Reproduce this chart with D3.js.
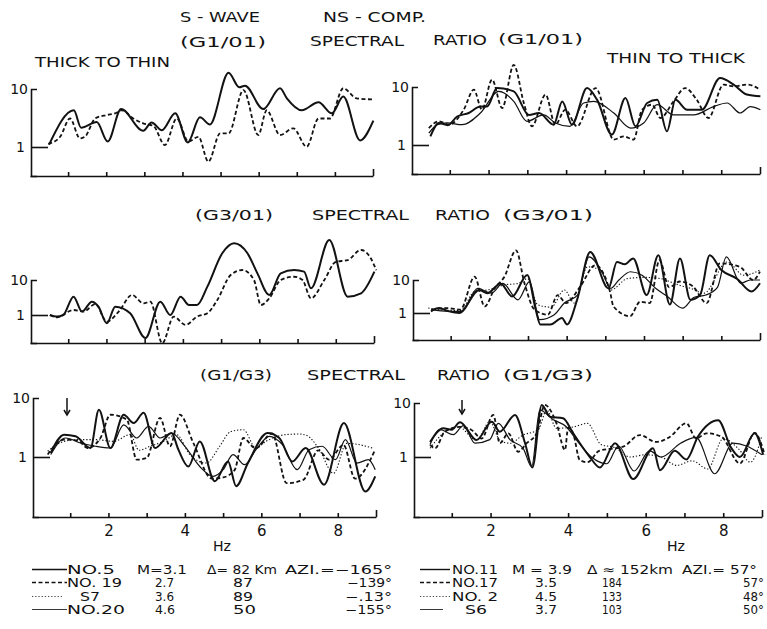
<!DOCTYPE html>
<html>
<head>
<meta charset="utf-8">
<script src="https://cdn.jsdelivr.net/npm/d3@7"></script>
<style>
  body { margin: 0; background: #fff; }
  svg text { font-family: "DejaVu Sans", sans-serif; fill: #121212; }
  .axis path, .axis line { stroke: #121212; stroke-width: 1.6; fill: none; }
  .axis text { font-size: 14px; }
  .curve { fill: none; stroke: #121212; stroke-linejoin: round; }
</style>
</head>
<body>
<svg width="767" height="629"></svg>
<script>
// ---- data (frequency in Hz, spectral ratio) ----
const hzTicks = [1, 2, 3, 4, 5, 6, 7, 8, 9];
const hzLabels = [2, 4, 6, 8];
const ratioTicks = [1, 10];

// (G1/01) thick to thin
const l1No5 = [[0.5,1.1],[1.15,4.3],[1.34,2.15],[1.75,2.7],[2.04,1.24],[2.39,4.5],[2.97,1.9],[3.19,2.65],[3.46,1.95],[3.81,3.8],[4.14,1.2],[4.46,3.25],[4.72,2.45],[5.21,19],[5.49,10.7],[5.64,11.4],[6.12,4.5],[6.56,10.3],[6.74,6.9],[7.13,4.3],[7.57,5.9],[7.92,3.8],[8.22,7.4],[8.66,1.3],[9.01,2.85]];
const l1No19 = [[0.48,1.13],[0.79,1.5],[1.05,3.1],[1.31,1.41],[1.44,1.5],[1.71,3.1],[2.01,3.56],[2.23,3.8],[2.41,4.3],[2.71,3.1],[2.97,2.56],[3.24,2.3],[3.54,1.08],[3.85,3.1],[4.16,1.24],[4.42,1.5],[4.68,0.56],[4.99,1.72],[5.21,1.72],[5.6,9.6],[5.99,1.61],[6.21,4.3],[6.56,1.61],[6.91,2.1],[7.26,1.01],[7.57,3.1],[7.87,3.1],[8.22,10.3],[8.57,6.9],[9.01,6.6]];
// (G1/01) thin to thick
const r1No11 = [[0.5,1.41],[0.72,2.4],[0.95,2.2],[1.19,3.1],[1.49,3.56],[1.79,4.6],[1.96,4.6],[2.22,9.6],[2.65,8.4],[3.04,3.3],[3.3,3.56],[3.68,2.24],[3.9,5.65],[4.15,2.24],[4.54,9.6],[4.8,6.0],[5.18,1.51],[5.53,6.45],[5.79,2.1],[6.09,5.3],[6.35,6.0],[6.6,1.72],[6.82,6.0],[7.12,4.06],[7.5,4.06],[7.97,14.3],[8.32,11],[8.66,7.4],[9.01,6.9]];
const r1No17 = [[0.46,1.96],[0.72,2.56],[0.98,2.24],[1.36,4.07],[1.62,9.0],[1.83,4.07],[2.09,13.4],[2.35,4.34],[2.65,24],[2.91,5.3],[3.12,2.1],[3.47,7.4],[3.72,2.24],[3.98,4.07],[4.28,2.1],[4.76,9.6],[5.23,1.24],[5.49,1.41],[5.74,1.24],[5.96,4.07],[6.22,4.96],[6.43,2.92],[6.77,5.65],[7.07,9.6],[7.37,6.0],[7.67,2.92],[8.06,11],[8.32,10.3],[8.66,11],[9.01,9.0]];
const r1S6 = [[0.46,1.6],[0.68,2.24],[0.93,2.4],[1.32,2.24],[1.79,3.56],[2.26,8.4],[2.65,5.65],[2.99,2.56],[3.42,3.3],[3.72,2.4],[4.1,2.1],[4.45,5.3],[4.71,5.65],[5.23,3.56],[5.66,1.96],[6.0,2.4],[6.35,4.96],[6.77,3.3],[7.29,3.3],[7.8,4.6],[8.15,5.3],[8.49,3.56],[8.75,4.6],[9.01,4.06]];

// (G3/01)
const l2No5 = [[0.52,1.0],[0.7,0.9],[0.87,1.0],[1.14,3.34],[1.36,1.25],[1.62,2.4],[1.79,1.73],[2.01,0.58],[2.23,1.73],[2.62,1.12],[3.02,0.22],[3.41,2.4],[3.67,1.0],[3.94,3.34],[4.16,1.93],[4.37,1.93],[4.64,6.45],[5.03,58],[5.34,112],[5.69,58],[5.95,15.5],[6.26,3.73],[6.56,15.5],[6.91,19.3],[7.17,17.3],[7.35,5.8],[7.83,139],[8.31,3.34],[8.66,4.16],[9.01,17.3]];
const l2No19 = [[0.52,1.0],[0.7,0.86],[1.14,1.39],[1.4,1.25],[1.71,2.06],[2.01,0.65],[2.32,1.25],[2.67,3.73],[2.97,2.15],[3.15,2.4],[3.46,0.155],[3.76,0.9],[4.07,0.52],[4.37,0.9],[4.64,1.12],[4.9,2.68],[5.25,13.9],[5.56,19.3],[5.86,10],[6.04,1.93],[6.26,3.0],[6.56,10],[6.91,12.4],[7.13,10],[7.35,3.0],[7.7,10],[8.0,33],[8.31,37],[8.66,72],[8.92,41],[9.06,19]];
const r2No11 = [[0.49,1.12],[0.7,1.41],[0.96,1.12],[1.22,1.0],[1.74,5.0],[1.95,4.0],[2.29,7.9],[2.59,3.16],[2.98,14.1],[3.2,1.26],[3.32,0.45],[3.58,0.45],[3.88,0.71],[4.01,0.45],[4.27,2.5],[4.61,70],[5.08,5.6],[5.3,35],[5.5,30],[5.72,45],[6.07,3.5],[6.37,56],[6.67,1.8],[6.93,45],[7.2,2.5],[7.45,3.5],[7.7,56],[8.0,20],[8.4,11],[8.78,4.5],[9.0,8]];
const r2No17 = [[0.5,1.26],[0.93,1.41],[1.25,1.26],[1.62,12.6],[1.88,1.58],[2.14,5.6],[2.39,12.6],[2.69,79],[2.91,7.9],[3.17,1.26],[3.51,0.89],[3.77,3.5],[3.98,2.0],[4.35,6.3],[4.74,28],[5.12,4.5],[5.21,1.58],[5.64,0.8],[5.9,2.2],[6.15,2.0],[6.4,40],[6.65,6],[6.93,9],[7.27,6.3],[7.62,2.0],[7.96,32],[8.48,25],[8.82,10],[9.0,18]];
const r2No2 = [[0.42,1.41],[0.9,1.2],[1.25,1.2],[1.62,4.5],[1.96,5.0],[2.39,7.1],[2.74,7.9],[2.99,11],[3.25,1.78],[3.6,1.5],[3.94,5.0],[4.2,2.0],[4.54,25],[4.88,20],[5.14,5.0],[5.57,11],[6.0,12],[6.43,11],[6.9,7],[7.2,5.6],[7.55,4],[8.15,35],[8.58,14],[9.0,20]];
const r2S6 = [[0.5,1.26],[0.93,1.12],[1.28,1.12],[1.7,5.6],[2.05,4.0],[2.35,7.9],[2.74,2.5],[3.04,8.9],[3.3,0.63],[3.68,0.89],[3.94,2.0],[4.28,3.5],[4.58,50],[4.93,15.8],[5.14,5.6],[5.35,10],[5.65,17.8],[5.95,14],[6.3,5.6],[6.6,3.2],[7.0,1.4],[7.3,3.0],[7.6,3.5],[7.9,6],[8.13,50],[8.5,8],[8.75,10],[9.0,10]];

// (G1/G3)
const l3No5 = [[0.49,1.17],[0.84,2.39],[1.14,2.24],[1.53,1.42],[1.75,6.3],[2.05,1.42],[2.4,5.2],[2.66,3.76],[2.92,5.6],[3.22,1.42],[3.65,2.55],[3.83,1.33],[4.09,0.69],[4.39,1.84],[4.78,0.39],[5.13,0.84],[5.34,0.32],[5.65,0.79],[6.16,2.55],[6.47,2.1],[6.81,0.84],[7.16,1.42],[7.64,0.34],[8.16,3.76],[8.72,0.26],[8.98,0.47]];
const l3No19 = [[0.41,1.1],[0.84,1.97],[1.2,1.9],[1.45,1.42],[1.79,2.1],[2.05,5.2],[2.48,4.3],[2.74,0.9],[3.0,0.96],[3.35,4.6],[3.61,1.52],[3.87,5.2],[4.22,1.73],[4.71,0.43],[5.0,0.45],[5.3,0.6],[5.53,2.1],[5.85,1.4],[6.28,2.5],[6.66,0.36],[7.1,0.41],[7.49,1.3],[7.77,0.9],[8.15,1.6],[8.45,0.43],[8.97,1.3]];
const l3S7 = [[0.41,1.25],[0.84,1.84],[1.23,1.97],[1.66,1.97],[2.14,1.84],[2.57,2.4],[2.8,1.3],[3.09,1.52],[3.44,1.84],[3.78,2.4],[4.13,1.1],[4.56,0.79],[4.91,1.52],[5.2,2.7],[5.53,2.9],[5.86,1.42],[6.12,1.84],[6.66,2.4],[7.0,2.45],[7.2,2.3],[7.5,1.4],[7.89,0.53],[8.23,1.7],[8.6,1.6],[8.93,1.4]];
const l3No20 = [[0.49,1.1],[0.88,2.1],[1.27,1.73],[1.66,1.52],[2.05,1.42],[2.4,3.5],[2.74,2.1],[3.05,3.3],[3.35,2.1],[3.65,2.55],[4.0,1.52],[4.39,0.69],[4.74,0.47],[5.0,0.61],[5.26,1.1],[5.56,0.74],[5.86,1.33],[6.21,2.24],[6.55,1.62],[6.94,0.61],[7.25,1.33],[7.59,1.52],[7.94,0.9],[8.2,1.97],[8.5,0.79],[8.8,0.9],[8.98,0.61]];
const r3No11 = [[0.44,1.9],[0.78,3.4],[1.0,3.2],[1.21,4.4],[1.64,2.06],[2.03,4.5],[2.24,2.95],[2.63,6.0],[2.89,1.8],[3.08,0.64],[3.32,9.2],[3.53,5.6],[3.87,5.2],[4.13,2.75],[4.56,1.0],[4.82,0.64],[5.21,1.8],[5.68,0.39],[6.19,1.45],[6.37,0.57],[6.75,1.3],[7.05,0.9],[7.35,2.4],[7.87,4.8],[8.2,1.5],[8.43,1.0],[8.81,2.75],[9.03,1.1]];
const r3No17 = [[0.44,1.67],[0.57,1.45],[0.82,2.95],[1.21,3.6],[1.5,3.2],[1.77,2.2],[2.07,6.0],[2.24,1.8],[2.46,2.75],[2.71,1.25],[2.93,1.8],[3.19,2.75],[3.4,9.2],[3.7,4.2],[3.92,1.35],[4.0,3.5],[4.13,2.75],[4.3,0.88],[4.5,0.8],[4.8,1.3],[5.42,1.55],[5.85,2.55],[6.27,1.9],[6.6,2.3],[7.05,4.2],[7.3,2.2],[7.57,2.75],[7.95,2.38],[8.43,0.76],[8.81,2.8],[9.07,1.1]];
const r3No2 = [[0.44,1.45],[0.78,2.75],[1.17,3.6],[1.64,2.06],[1.98,4.5],[2.25,2.0],[2.5,1.8],[2.84,2.55],[3.23,3.2],[3.45,7.4],[3.7,3.4],[4.13,3.6],[4.5,4.2],[4.85,1.7],[5.2,1.5],[5.6,1.0],[6.0,1.1],[6.4,1.0],[6.8,0.7],[7.2,0.85],[7.6,0.6],[8.0,2.2],[8.4,1.4],[8.7,0.8],[9.0,2.5]];
const r3S6 = [[0.44,1.7],[0.7,3.2],[1.04,2.6],[1.3,3.8],[1.6,1.8],[1.98,2.1],[2.2,4.2],[2.5,2.1],[2.84,1.45],[3.06,0.66],[3.27,7.4],[3.62,4.9],[3.96,3.6],[4.22,2.06],[4.6,1.0],[5.0,0.75],[5.3,1.6],[5.7,0.55],[6.1,1.3],[6.4,1.0],[6.9,1.8],[7.3,2.3],[7.78,0.49],[8.25,1.8],[8.6,1.6],[9.0,1.1]];

// legend
const leftEvents = ["NO.5", "NO. 19", "S7", "NO.20"];
const leftMag = ["M=3.1", "2.7", "3.6", "4.6"];
const leftDist = ["Δ= 82 Km", "87", "89", "50"];
const leftAzi = ["AZI.=−165°", "−139°", "−.13°", "−155°"];
const rightEvents = ["NO.11", "NO.17", "NO. 2", "S6"];
const rightMag = ["M = 3.9", "3.5", "4.5", "3.7"];
const rightDist = ["Δ ≈ 152km", "184", "133", "103"];
const rightAzi = ["AZI.= 57°", "57°", "48°", "50°"];

// ---- layout ----
const svg = d3.select("svg");
const styles = {
  heavy: {w: 2, dash: null},
  dash: {w: 1.8, dash: "4,2.5"},
  dot: {w: 1.1, dash: "1.3,1.9"},
  thin: {w: 1.2, dash: null}
};

const panels = [
  {x0: 30, x9: 373, y10: 89, y1: 147, yb: 176, labels: false, series: [[l1No5, "heavy"], [l1No19, "dash"]]},
  {x0: 411, x9: 760, y10: 87, y1: 145, yb: 174, labels: false, series: [[r1No11, "heavy"], [r1No17, "dash"], [r1S6, "thin"]]},
  {x0: 30, x9: 374, y10: 280, y1: 315, yb: 343, labels: false, series: [[l2No5, "heavy"], [l2No19, "dash"]]},
  {x0: 412, x9: 760, y10: 280, y1: 313, yb: 340, labels: false, series: [[r2No11, "heavy"], [r2No17, "dash"], [r2No2, "dot"], [r2S6, "thin"]]},
  {x0: 32, x9: 376, y10: 398, y1: 457, yb: 517, labels: true, series: [[l3No5, "heavy"], [l3No19, "dash"], [l3S7, "dot"], [l3No20, "thin"]]},
  {x0: 413, x9: 762, y10: 403, y1: 457, yb: 517, labels: true, series: [[r3No11, "heavy"], [r3No17, "dash"], [r3No2, "dot"], [r3S6, "thin"]]}
];

panels.forEach(p => {
  const x = d3.scaleLinear().domain([0, 9]).range([p.x0, p.x9]);
  const y = d3.scaleLog().domain([1, 10]).range([p.y1, p.y10]);
  y.domain([y.invert(p.yb), 10]).range([p.yb, p.y10]);

  const g = svg.append("g");

  // bottom axis, ticks pointing up
  const xAxis = g.append("g")
    .attr("class", "axis")
    .attr("transform", `translate(0,${p.yb})`)
    .call(d3.axisBottom(x).tickValues(hzTicks).tickSize(-4).tickSizeOuter(0).tickPadding(8)
      .tickFormat(d => p.labels && hzLabels.includes(d) ? d : ""));
  xAxis.selectAll("text").style("font-size", "15px");
  xAxis.selectAll(".tick line").filter(d => d === 9).attr("y2", -7);

  // left axis: short corner at 10, long tick at 1
  const yAxis = g.append("g")
    .attr("class", "axis")
    .attr("transform", `translate(${p.x0 + 1},0)`)
    .call(d3.axisLeft(y).tickValues(ratioTicks).tickSize(-6).tickPadding(3)
      .tickFormat(d3.format("d")));
  yAxis.selectAll(".tick line").filter(d => d === 1).attr("x2", 17);
  yAxis.selectAll(".tick line").filter(d => d === 10).remove();
  yAxis.selectAll(".tick").filter(d => d === 1).select("text").attr("x", -6);

  const line = d3.line()
    .x(d => x(d[0]))
    .y(d => y(d[1]))
    .curve(d3.curveMonotoneX);

  p.series.forEach(([data, s]) => {
    g.append("path")
      .datum(data)
      .attr("class", "curve")
      .attr("d", line)
      .attr("stroke-width", styles[s].w)
      .attr("stroke-dasharray", styles[s].dash);
  });
});

// ---- titles ----
const titles = [
  ["S - WAVE", 180, 22, 80], ["NS - COMP.", 323, 22, 103],
  ["(G1/01)", 180, 47, 86], ["SPECTRAL", 310, 46, 94], ["RATIO", 433, 45, 54], ["(G1/01)", 498, 44, 85],
  ["THICK TO THIN", 35, 67, 135], ["THIN TO THICK", 607, 63, 138],
  ["(G3/01)", 195, 220, 78], ["SPECTRAL", 312, 220, 97], ["RATIO", 435, 220, 55], ["(G3/01)", 503, 220, 90],
  ["(G1/G3)", 200, 380, 72], ["SPECTRAL", 307, 380, 98], ["RATIO", 437, 380, 53], ["(G1/G3)", 503, 380, 90],
  ["Hz", 213, 551, 18], ["Hz", 667, 551, 18]
];
svg.append("g").selectAll("text")
  .data(titles)
  .join("text")
  .attr("x", d => d[1])
  .attr("y", d => d[2])
  .attr("textLength", d => d[3])
  .attr("lengthAdjust", "spacingAndGlyphs")
  .style("font-size", "14px")
  .text(d => d[0]);

// arrows at the G1/G3 peak
const arrows = [[67, 398, 415], [462, 400, 414]];
arrows.forEach(([ax, top, tip]) => {
  svg.append("line").attr("x1", ax).attr("x2", ax).attr("y1", top).attr("y2", tip - 1)
    .attr("stroke", "#121212").attr("stroke-width", 1.5);
  svg.append("path").attr("d", `M${ax - 3},${tip - 5}L${ax},${tip}L${ax + 3},${tip - 5}`)
    .attr("fill", "none").attr("stroke", "#121212").attr("stroke-width", 1.5);
});

// ---- legend ----
const rowY = [574, 587, 601, 614];
const legendStyles = ["heavy", "dash", "dot", "thin"];
function legend(cfg) {
  const g = svg.append("g");
  cfg.lines.forEach((seg, i) => {
    g.append("line")
      .attr("x1", seg[0]).attr("x2", seg[1])
      .attr("y1", rowY[i] - 4.5).attr("y2", rowY[i] - 4.5)
      .attr("stroke", "#121212")
      .attr("stroke-width", styles[legendStyles[i]].w * 0.7)
      .attr("stroke-dasharray", styles[legendStyles[i]].dash);
  });
  cfg.cols.forEach(col => {
    col.values.forEach((t, i) => {
      const pos = col.pos[i];
      g.append("text")
        .attr("x", pos[0])
        .attr("y", rowY[i])
        .attr("textLength", pos[1] - pos[0])
        .attr("lengthAdjust", "spacingAndGlyphs")
        .style("font-size", "12px")
        .text(t);
    });
  });
}

legend({
  lines: [[32, 67], [32, 67], [32, 62], [32, 67]],
  cols: [
    {values: leftEvents, pos: [[67, 115], [67, 122], [80, 100], [67, 125]]},
    {values: leftMag, pos: [[137, 187], [155, 174], [155, 174], [155, 175]]},
    {values: leftDist, pos: [[207, 277], [233, 253], [233, 253], [233, 256]]},
    {values: leftAzi, pos: [[285, 392], [347, 392], [345, 392], [345, 392]]}
  ]
});
legend({
  lines: [[420, 450], [420, 450], [420, 450], [420, 443]],
  cols: [
    {values: rightEvents, pos: [[452, 498], [452, 498], [452, 498], [465, 487]]},
    {values: rightMag, pos: [[512, 572], [535, 557], [535, 557], [535, 557]]},
    {values: rightDist, pos: [[587, 673], [602, 622], [602, 622], [602, 622]]},
    {values: rightAzi, pos: [[682, 757], [743, 764], [743, 764], [743, 764]]}
  ]
});
</script>
</body>
</html>
